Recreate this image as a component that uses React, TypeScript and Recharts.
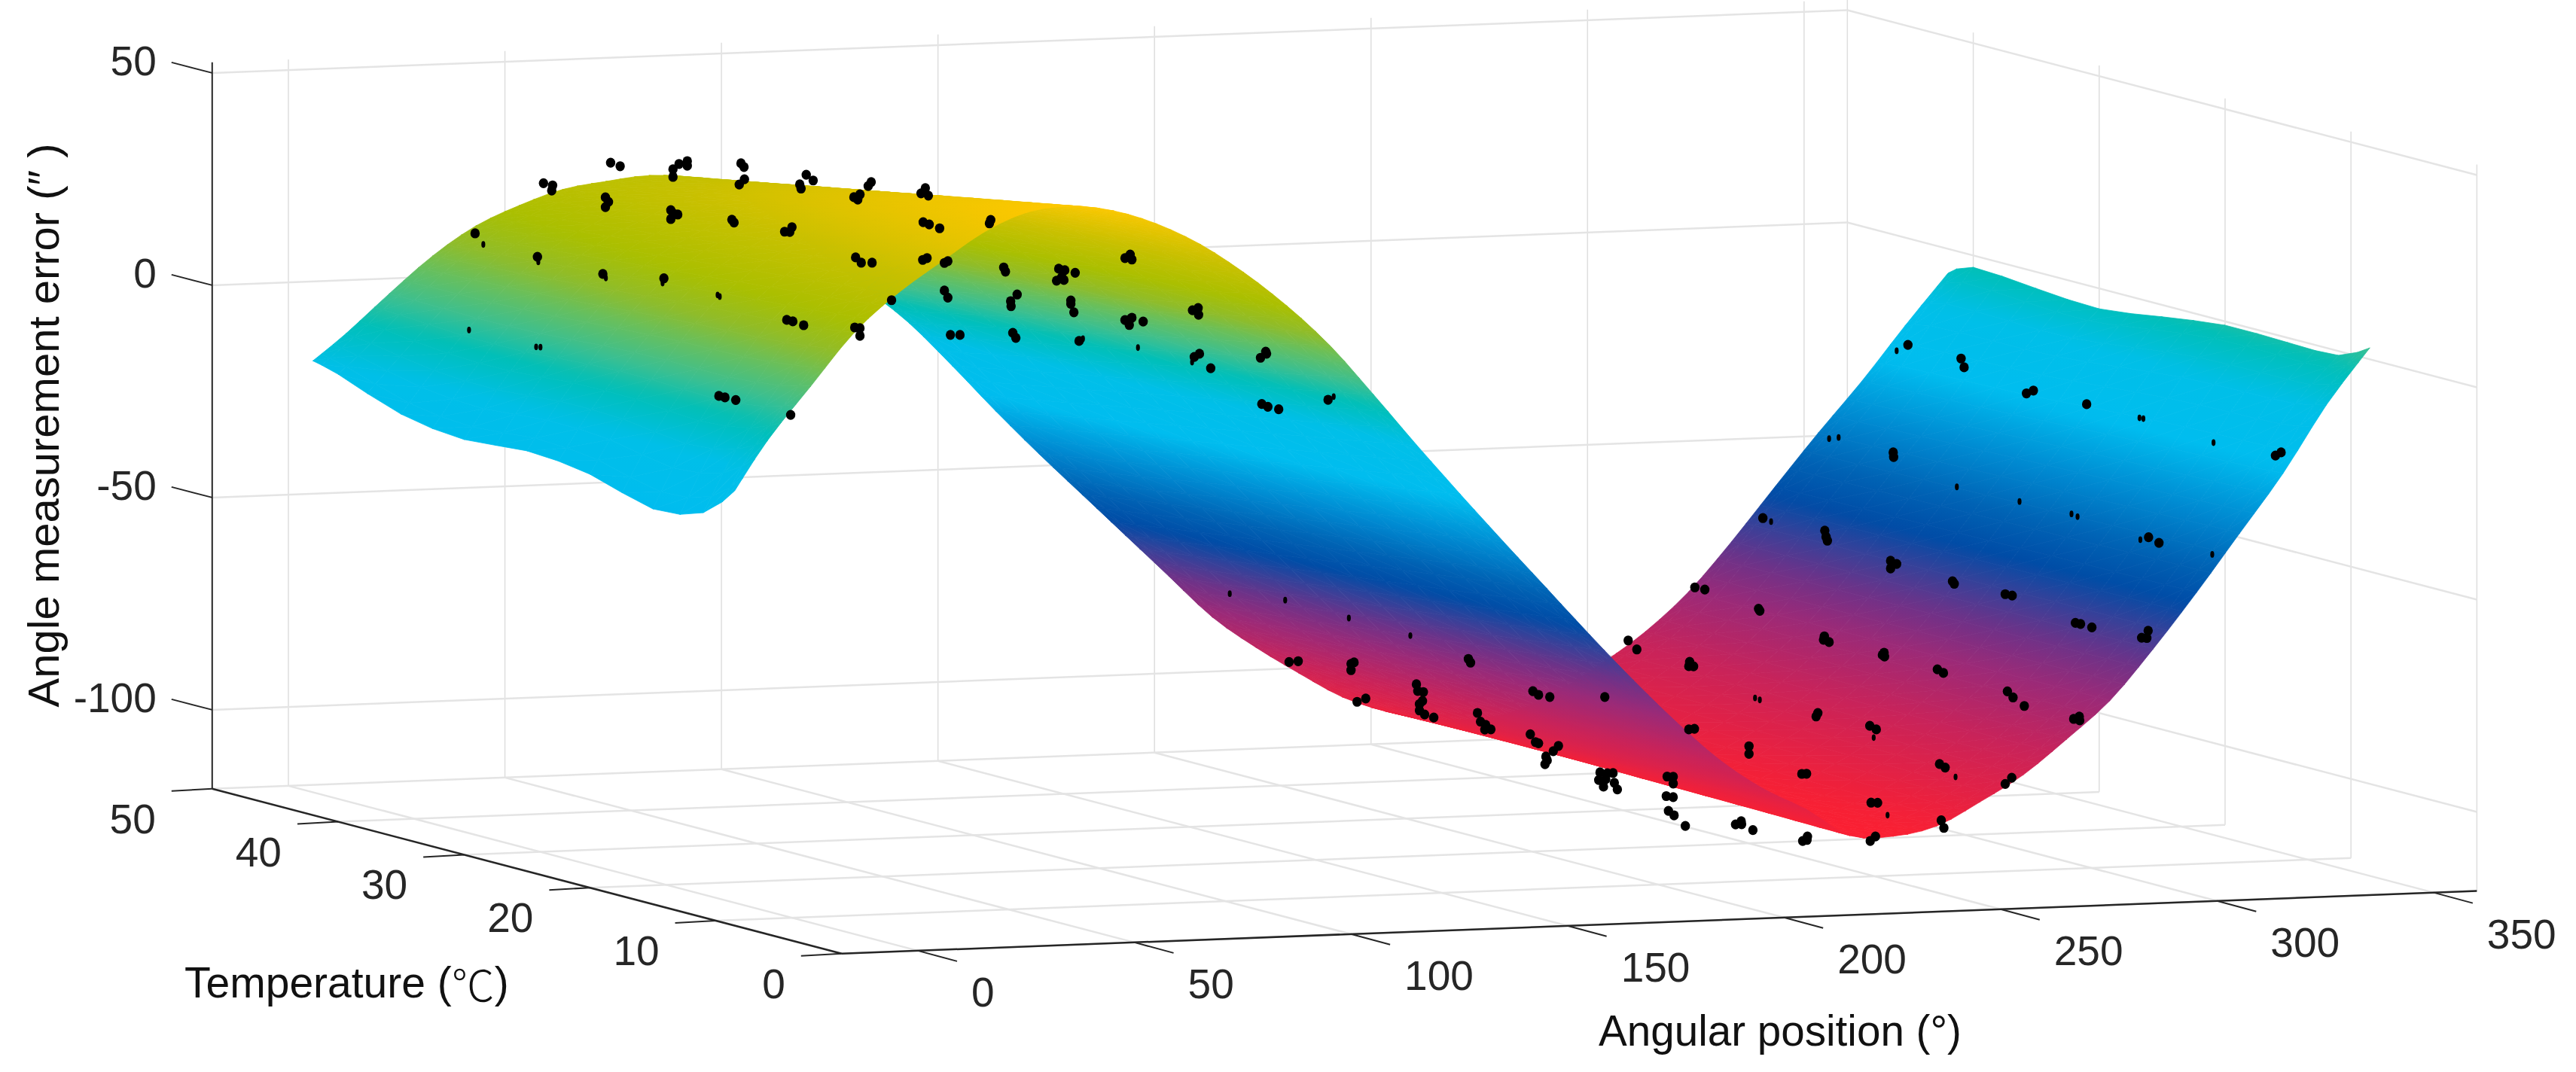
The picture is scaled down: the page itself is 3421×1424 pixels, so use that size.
import { ScatterChart, Scatter, XAxis, YAxis } from "recharts";

const WIDTH = 3421;
const HEIGHT = 1424;

const angleTicks = [0, 50, 100, 150, 200, 250, 300, 350];
const tempTicks = [0, 10, 20, 30, 40, 50];
const errorTicks = [50, 0, -50, -100];

const ANGLE_MIN = -17.6;
const ANGLE_MAX = 360;
const ERROR_MIN = -118.6;
const ERROR_MAX = 52.5;

const surfaceTemps = [8.5, 11, 15, 20, 25, 30, 35, 40, 42];
const surfaceAngles = [
  -17.6, -10, 0, 10, 20, 30, 40, 50, 60, 70, 80, 90, 100, 110, 120, 130, 140, 150, 160, 170, 180,
  190, 200, 210, 220, 230, 240, 250, 260, 270, 280, 290, 300, 310, 320, 330, 340, 350, 360,
];
// one row per angle, one column per temperature
const surfaceError = [
  [-16.2, -23.3, -25.5, -21.2, -19.6, -20.8, -18.7, -13.2, -11.6],
  [-4.6, -8.7, -10.4, -8.5, -8.2, -9.4, -8.7, -6.2, -5.5],
  [7.8, 6.0, 4.9, 5.0, 4.5, 3.5, 3.2, 3.5, 3.5],
  [20, 19, 17.9, 17, 15.8, 14.5, 13.4, 12.4, 12],
  [28.8, 28, 26.8, 25.3, 23.8, 22.3, 20.8, 19.3, 18.7],
  [35.8, 34.8, 33.3, 31.4, 29.5, 27.6, 25.8, 23.9, 23.1],
  [42.5, 41.3, 39.4, 37, 34.6, 32.2, 29.9, 27.5, 26.5],
  [46.8, 45.4, 43.2, 40.4, 37.5, 34.7, 31.9, 29.1, 28],
  [47.8, 46.4, 44.2, 41.4, 38.5, 35.7, 32.9, 30.1, 29],
  [46.3, 44.9, 42.7, 40, 37.3, 34.6, 31.8, 29.1, 28],
  [42.8, 41.4, 39.2, 36.4, 33.5, 30.7, 27.9, 25.1, 24],
  [37.6, 36.1, 33.6, 30.5, 27.5, 24.4, 21.3, 18.2, 17],
  [30.6, 29, 26.4, 23.2, 20, 16.7, 13.5, 10.3, 9],
  [22.3, 20.7, 18.1, 14.8, 11.6, 8.3, 5, 1.8, 0.5],
  [12.5, 11, 8.5, 5.5, 2.4, -0.7, -3.7, -6.8, -8],
  [0.6, -0.8, -3.1, -5.9, -8.8, -11.7, -14.5, -17.4, -18.5],
  [-11.7, -13, -15.2, -17.8, -20.5, -23.1, -25.8, -28.4, -29.5],
  [-23.6, -24.8, -26.8, -29.2, -31.7, -34.1, -36.6, -39, -40],
  [-35.2, -36.3, -38.1, -40.3, -42.5, -44.7, -46.9, -49.1, -50],
  [-46.6, -47.6, -49.2, -51.2, -53.2, -55.2, -57.2, -59.2, -60],
  [-58, -59, -60.5, -62.2, -64, -65.8, -67.7, -69.4, -70],
  [-69, -69.8, -71.1, -72.8, -74.4, -76.1, -77.7, -79.3, -80],
  [-79.3, -79.9, -80.9, -82.1, -83.3, -84.6, -85.8, -87, -87.5],
  [-88.6, -89, -89.6, -90.5, -91.3, -92.1, -92.9, -93.7, -94],
  [-95.7, -96, -96.5, -97.2, -97.8, -98.5, -99.1, -99.7, -100],
  [-101, -101.2, -101.5, -102, -102.4, -102.8, -103.2, -103.6, -103.8],
  [-107.5, -107.4, -107.2, -107, -106.8, -106.5, -106.3, -106.1, -106],
  [-108, -107.9, -107.7, -107.5, -107.3, -107, -106.8, -106.6, -106.5],
  [-106, -105.9, -105.8, -105.7, -105.5, -105.4, -105.2, -105.1, -105],
  [-100.7, -100.7, -100.7, -100.6, -100.6, -100.6, -100.5, -100.5, -100.5],
  [-94.7, -94.7, -94.7, -94.6, -94.6, -94.6, -94.5, -94.5, -94.5],
  [-86.7, -86.8, -86.9, -87, -87.1, -87.2, -87.3, -87.4, -87.5],
  [-78, -78, -78.1, -78.2, -78.2, -78.3, -78.4, -78.5, -78.5],
  [-66.2, -66.3, -66.4, -66.5, -66.6, -66.7, -66.8, -67, -67],
  [-53.3, -53.4, -53.5, -53.7, -53.9, -54.1, -54.2, -54.4, -54.5],
  [-39.7, -39.9, -40.2, -40.6, -40.9, -41.3, -41.7, -42.1, -42.2],
  [-26, -26.5, -26.9, -27.4, -28.1, -28.9, -29.4, -30, -30.5],
  [-10.3, -12, -12.3, -12.8, -14.2, -15.6, -15.9, -16.1, -17.8],
  [2.7, -1, -1.1, -0.9, -2.8, -4.8, -3.9, -2.8, -5.7],
];

// measured points as [angle, error]. One view cannot fix a point's depth,
// so each group sits at one temperature.
const dotsAt35 = [
  [15.3, 34.4], [17.4, 33.8], [17.2, 32.6], [30.8, 38.6], [33, 37.7], [45.2, 36.5], [45.2, 34.7], [29.6, 30.5],
  [30.3, 29.4], [29.6, 28.2], [44.7, 26.9], [45.4, 26], [44.7, 24.8], [-0.5, 23.2], [13.9, 17.1], [29, 12.5],
  [43.1, 10.9], [46.6, 37.7], [48.5, 38.3], [48.5, 37.2], [60.9, 37.3], [61.6, 36.4], [61.7, 33.5], [60.5, 32.3],
  [46.3, 25.8], [58.8, 24.1], [59.3, 23.4], [55.8, -17.3], [57.2, -17.7], [59.7, -18.4],
];
const dotsAt25 = [
  [46.9, 42.9], [48.5, 41.5], [45.4, 40.7], [45.7, 39.7], [61.9, 40.6], [61.2, 39.7], [59.3, 37.8], [57.9, 37.2],
  [58.8, 36.6], [74.4, 38.7], [73.4, 37.5], [75.1, 36.9], [43.6, 30.7], [41.9, 29.7], [43.1, 29.6], [73.9, 30.7],
  [75.3, 30.1], [77.7, 29.1], [89.5, 30.6], [89.2, 29.8], [121.7, 21.2], [120.5, 20.4], [122.1, 20], [58.3, 23],
  [59.6, 21.7], [62.1, 21.6], [73.8, 21.8], [74.8, 22.2], [79.6, 21.3], [78.8, 20.9], [92.5, 19.3], [92.9, 18.3],
  [105.2, 18.5], [106.6, 18.1], [109, 17.4], [105.9, 16.5], [104.7, 15.7], [106.4, 15.8], [78.8, 14.4], [79.6, 12.7],
  [95.6, 12.8], [94.1, 11.3], [94.2, 10.1], [108, 10.9], [108, 10.1], [108.7, 8.1], [137.4, 8], [136.1, 7.5],
  [137.5, 6.4], [42.4, 8.9], [43.8, 8.5], [46.3, 7.5], [66.6, 12.6], [122.1, 6.3], [120.5, 5.8], [121.5, 4.6],
  [124.7, 5.3], [121.5, 5.8], [58.1, 6.5], [59.3, 6.3], [59.3, 4.5], [94.6, 3.8], [95.3, 2.6], [80.2, 3.9],
  [82.4, 3.8], [109.9, 1.3], [137.7, -2.8], [136.5, -3.5], [140.3, -6.3], [153, -2.9], [151.8, -4.3], [153.2, -3.4],
  [43.3, -13.5], [167.4, -14.8], [152.1, -15.2], [153.5, -15.9], [156, -16.6], [158.4, -76.2], [160.5, -76.1], [172.7, -77.2],
  [172.7, -78.7], [173.4, -76.9], [199.8, -77.1], [200.3, -78], [174.1, -86.2], [176.1, -85.5], [187.8, -82.6], [188.1, -84.2],
  [189.4, -84.5], [189.2, -86.6], [188.5, -87.3], [188.5, -88.8], [189.7, -89.8], [191.8, -90.6], [201.9, -89.9], [202.6, -92],
  [203.8, -92.8], [203.6, -93.9], [205, -93.9], [214.7, -85.3], [216, -86.2], [218.6, -86.8], [231.3, -87.3], [214.1, -95.4],
  [215.3, -97.3], [216, -97.6], [220.6, -98.4], [219.4, -99.6], [217.7, -100.8], [218, -101.7], [217.5, -102.6], [230.2, -105],
  [231.9, -105.3], [233.2, -105.3], [229.9, -106.8], [231.5, -106.7], [233.5, -107.6], [231, -108.4], [234.2, -109.2], [245.7, -106.6],
  [247.1, -106.7], [247.1, -108.3], [245.5, -111.2], [247.1, -111.5], [246, -114.7], [247.3, -115.8], [249.9, -118.4], [261.5, -118.5],
  [262.8, -117.8], [262.9, -118.5], [265.5, -120], [277, -123], [278.1, -122], [278, -122.8], [292.6, -123.6], [293.8, -122.6],
  [252.1, -62.3], [254.4, -62.9], [266.8, -67.9], [267.1, -68.4], [282, -75], [281.8, -75.8], [283.1, -76.4], [282.1, -50.1],
  [282.4, -51.6], [282.7, -52.5], [236.7, -74.2], [238.7, -76.4], [250.9, -79.8], [250.7, -80.8], [251.8, -80.9], [250.7, -95.7],
  [252, -95.6], [280.5, -93], [280.1, -93.8], [264.6, -100.2], [264.6, -102], [292.5, -96.5], [294, -97.4], [277.9, -107.2],
  [276.8, -107.2], [292.8, -114.6], [294.3, -114.7], [295.4, -79.9], [301.3, -7.1], [297.9, -32.3], [298, -33.4], [297.3, -57.8],
  [298.7, -58.6], [297.3, -59.6], [311.6, -63.2], [312, -63.8], [295.8, -79.4], [295.9, -80.3], [308.1, -83.8], [309.5, -84.7],
  [308.6, -106.1], [309.9, -107], [309, -119.4], [309.6, -121.2], [267.8, -46.6],
];
const dotsAt15 = [
  [284.5, -1.9], [285.2, -4], [301.2, -10.1], [299.6, -10.7], [313.5, -13.8], [358.4, -26.9], [357.1, -27.6], [327.8, -45.7],
  [330.2, -47.1], [294.7, -57.8], [296.3, -58.2], [310.9, -65.2], [312.1, -65.5], [314.7, -66.4], [327.7, -67.7], [326.2, -69.3],
  [327.4, -69.4], [295.2, -80.7], [296.5, -82.2], [299.1, -84.3], [310.5, -87.8], [311.8, -87.3], [311.9, -88.2], [296.2, -101.1],
  [294.7, -102.5],
];
// points mostly sunk under the surface, only a sliver shows: [angle, temperature, error]
const sunkDots = [
  [1.4, 35, 20.5], [14.1, 35, 15.9], [29.7, 35, 11.5], [42.8, 35, 9.8], [-1.9, 35, 0.5], [13.6, 35, -4.1], [14.6, 35, -4.2],
  [55.5, 35, 6.5], [56, 35, 6.1], [123.5, 25, -0.8], [136, 25, -4.7], [168.7, 25, -14.1], [110.8, 25, 1.8], [144.7, 25, -59.6],
  [157.5, 25, -61.6], [172.2, 25, -66.4], [186.4, 25, -71.1], [266, 25, -88.9], [267.1, 25, -89.4], [293.4, 25, -99.3],
  [283.1, 25, -28.5], [285.3, 25, -28.3], [298.7, 25, -8.4], [269.7, 25, -47.5], [312.6, 25, -41], [312.3, 25, -109.3],
  [296.6, 25, -117.7], [325.7, 15, -17.5], [326.6, 15, -17.7], [342.8, 15, -24], [298, 15, -36.1], [310, 15, -39.5],
  [311.4, 15, -40.2], [325.9, 15, -46.2], [342.5, 15, -50.3],
];

const colorStops: [number, number[]][] = [
  [-110, [255, 31, 46]],
  [-90, [200, 35, 90]],
  [-78, [154, 42, 120]],
  [-70, [110, 50, 136]],
  [-63, [58, 64, 152]],
  [-56, [0, 76, 166]],
  [-48, [0, 98, 180]],
  [-38, [0, 136, 208]],
  [-25, [0, 189, 239]],
  [-12, [0, 191, 232]],
  [-3, [0, 191, 184]],
  [3, [60, 191, 144]],
  [10, [106, 191, 90]],
  [15, [143, 188, 42]],
  [22, [170, 191, 0]],
  [32, [200, 192, 0]],
  [40, [230, 196, 0]],
  [48, [255, 200, 0]],
];

// the plot box is an oblique view, so each data unit moves a fixed number of pixels
const project = (angle: number, temp: number, error: number) => ({
  x: 1219 + 5.751 * angle - 16.72 * temp,
  y: 594 - 0.2207 * angle - 4.38 * temp - 5.64 * error,
});

const colorAt = (z: number) => {
  if (z <= colorStops[0][0]) return `rgb(${colorStops[0][1].join(",")})`;
  for (let i = 1; i < colorStops.length; i++) {
    const [z1, c1] = colorStops[i];
    if (z <= z1) {
      const [z0, c0] = colorStops[i - 1];
      const k = (z - z0) / (z1 - z0);
      return `rgb(${c0.map((c, j) => Math.round(c + (c1[j] - c) * k)).join(",")})`;
    }
  }
  return `rgb(${colorStops[colorStops.length - 1][1].join(",")})`;
};

// curve smoothing of the drawn surface, same idea as type="monotone" on a Line
const smooth = (v: number[], steps: number) => {
  const out: number[] = [];
  for (let i = 0; i < v.length - 1; i++) {
    const p0 = v[Math.max(i - 1, 0)];
    const p1 = v[i];
    const p2 = v[i + 1];
    const p3 = v[Math.min(i + 2, v.length - 1)];
    for (let s = 0; s < steps; s++) {
      const t = s / steps;
      out.push(
        0.5 *
          (2 * p1 +
            (p2 - p0) * t +
            (2 * p0 - 5 * p1 + 4 * p2 - p3) * t * t +
            (3 * p1 - p0 - 3 * p2 + p3) * t * t * t)
      );
    }
  }
  out.push(v[v.length - 1]);
  return out;
};

const ANGLE_STEPS = 3;
const TEMP_STEPS = 2;
const meshAngles = smooth(surfaceAngles, ANGLE_STEPS);
const meshTemps = smooth(surfaceTemps, TEMP_STEPS);
const byAngle = surfaceError.map((row) => smooth(row, TEMP_STEPS));
const meshError = meshAngles.map(() => [] as number[]);
meshTemps.forEach((_, j) => {
  smooth(byAngle.map((row) => row[j]), ANGLE_STEPS).forEach((z, i) => meshError[i].push(z));
});

const makeTriangle = (corners: number[][], id: number) => {
  const pts = corners.map(([a, t, z]) => ({ ...project(a, t, z), z }));
  const [p, q, r] = pts;
  const det = (q.x - p.x) * (r.y - p.y) - (r.x - p.x) * (q.y - p.y);
  const gx = ((q.z - p.z) * (r.y - p.y) - (r.z - p.z) * (q.y - p.y)) / det;
  const gy = ((r.z - p.z) * (q.x - p.x) - (q.z - p.z) * (r.x - p.x)) / det;
  const low = pts.reduce((m, v) => (v.z < m.z ? v : m));
  const high = pts.reduce((m, v) => (v.z > m.z ? v : m));
  const dz = high.z - low.z;
  const g2 = gx * gx + gy * gy;
  return {
    id,
    x: (p.x + q.x + r.x) / 3,
    y: (p.y + q.y + r.y) / 3,
    points: pts.map((v) => `${v.x.toFixed(1)},${v.y.toFixed(1)}`).join(" "),
    x1: low.x,
    y1: low.y,
    x2: low.x + (gx * dz) / (g2 || 1),
    y2: low.y + (gy * dz) / (g2 || 1),
    lowZ: low.z,
    dz,
  };
};

// far corner first, so nearer parts of the surface paint over farther ones
const triangles: ReturnType<typeof makeTriangle>[] = [];
for (let i = meshAngles.length - 2; i >= 0; i--) {
  for (let j = meshTemps.length - 2; j >= 0; j--) {
    const a0 = meshAngles[i];
    const a1 = meshAngles[i + 1];
    const t0 = meshTemps[j];
    const t1 = meshTemps[j + 1];
    const far = [a1, t1, meshError[i + 1][j + 1]];
    const near = [a0, t0, meshError[i][j]];
    const left = [a0, t1, meshError[i][j + 1]];
    const right = [a1, t0, meshError[i + 1][j]];
    triangles.push(makeTriangle([far, left, right], triangles.length));
    triangles.push(makeTriangle([left, right, near], triangles.length));
  }
}

const seg = (p: { x: number; y: number }, q: { x: number; y: number }, stroke: string, sw: number) => ({
  x: p.x,
  y: p.y,
  x2: q.x,
  y2: q.y,
  stroke,
  sw,
});

const GRID = "#e4e4e4";
const GRID_V = "#dedede";
const AXIS = "#262626";

const gridLines = [
  ...angleTicks.map((a) => seg(project(a, 50, ERROR_MIN), project(a, 50, ERROR_MAX), GRID_V, 1.5)),
  ...tempTicks.map((t) => seg(project(ANGLE_MAX, t, ERROR_MIN), project(ANGLE_MAX, t, ERROR_MAX), GRID_V, 1.5)),
  ...errorTicks.map((z) => seg(project(ANGLE_MIN, 50, z), project(ANGLE_MAX, 50, z), GRID, 2.5)),
  ...errorTicks.map((z) => seg(project(ANGLE_MAX, 50, z), project(ANGLE_MAX, 0, z), GRID, 2.5)),
  ...angleTicks.map((a) => seg(project(a, 0, ERROR_MIN), project(a, 50, ERROR_MIN), GRID, 2.5)),
  ...tempTicks.map((t) => seg(project(ANGLE_MIN, t, ERROR_MIN), project(ANGLE_MAX, t, ERROR_MIN), GRID, 2.5)),
];

const tickFrom = (p: { x: number; y: number }, dx: number, dy: number) =>
  seg(p, { x: p.x + dx, y: p.y + dy }, AXIS, 2);

const axisLines = [
  seg(project(ANGLE_MIN, 50, ERROR_MIN), project(ANGLE_MIN, 50, ERROR_MAX), AXIS, 2),
  seg(project(ANGLE_MIN, 50, ERROR_MIN), project(ANGLE_MIN, 0, ERROR_MIN), AXIS, 2.5),
  seg(project(ANGLE_MIN, 0, ERROR_MIN), project(ANGLE_MAX, 0, ERROR_MIN), AXIS, 2.5),
  ...errorTicks.map((z) => tickFrom(project(ANGLE_MIN, 50, z), -54, -14)),
  ...tempTicks.map((t) => tickFrom(project(ANGLE_MIN, t, ERROR_MIN), -54, 3)),
  ...angleTicks.map((a) => tickFrom(project(a, 0, ERROR_MIN), 52, 14)),
];

const labelAt = (p: { x: number; y: number }, dx: number, dy: number, text: string, anchor: string) => ({
  x: p.x + dx,
  y: p.y + dy,
  text,
  anchor,
});

const tickLabels = [
  ...errorTicks.map((z) => labelAt(project(ANGLE_MIN, 50, z), -74, -16, String(z), "end")),
  ...tempTicks.map((t) => labelAt(project(ANGLE_MIN, t, ERROR_MIN), -75, 40, String(t), "end")),
  ...angleTicks.map((a) => labelAt(project(a, 0, ERROR_MIN), 71, 55, String(a), "start")),
];

const titles = [
  { x: 245, y: 1305, text: "Temperature (", unit: "℃", tail: ")", anchor: "start", rotate: 0, size: 57 },
  { x: 2123, y: 1369, text: "Angular position (°)", unit: "", tail: "", anchor: "start", rotate: 0, size: 56.6 },
  { x: 57, y: 565, text: "Angle measurement error (″  )", unit: "", tail: "", anchor: "middle", rotate: -90, size: 58 },
];

const dotPoints = [
  ...dotsAt35.map(([a, z]) => project(a, 35, z)),
  ...dotsAt25.map(([a, z]) => project(a, 25, z)),
  ...dotsAt15.map(([a, z]) => project(a, 15, z)),
];
const sunkPoints = sunkDots.map(([a, t, z]) => project(a, t, z));

const FONT = "'Liberation Sans', Arial, sans-serif";

const TriangleShape = (props: any) => {
  const t = props.payload;
  const fid = `tri-${t.id}`;
  const flat = t.dz < 0.05;
  const paint = flat ? colorAt(t.lowZ) : `url(#${fid})`;
  return (
    <g>
      {!flat && (
        <defs>
          <linearGradient id={fid} gradientUnits="userSpaceOnUse" x1={t.x1} y1={t.y1} x2={t.x2} y2={t.y2}>
            <stop offset={0} stopColor={colorAt(t.lowZ)} />
            <stop offset={0.5} stopColor={colorAt(t.lowZ + t.dz / 2)} />
            <stop offset={1} stopColor={colorAt(t.lowZ + t.dz)} />
          </linearGradient>
        </defs>
      )}
      <polygon points={t.points} fill={paint} stroke={paint} strokeWidth={0.8} strokeLinejoin="round" />
    </g>
  );
};

const SegmentShape = (props: any) => {
  const s = props.payload;
  return <line x1={s.x} y1={s.y} x2={s.x2} y2={s.y2} stroke={s.stroke} strokeWidth={s.sw} strokeLinecap="butt" />;
};

const TickText = (props: any) => {
  const l = props.payload;
  return (
    <text x={l.x} y={l.y} textAnchor={l.anchor} dominantBaseline="central" fontFamily={FONT} fontSize={55} fill={AXIS}>
      {l.text}
    </text>
  );
};

const TitleText = (props: any) => {
  const l = props.payload;
  return (
    <text
      x={l.x}
      y={l.y}
      textAnchor={l.anchor}
      dominantBaseline="central"
      fontFamily={FONT}
      fontSize={l.size}
      fill="#111"
      transform={l.rotate ? `rotate(${l.rotate} ${l.x} ${l.y})` : undefined}
    >
      {l.text}
      {l.unit && <tspan fontFamily="'Noto Sans CJK SC'" fontWeight={300}>{l.unit}</tspan>}
      {l.tail}
    </text>
  );
};

const DotShape = (props: any) => <ellipse cx={props.cx} cy={props.cy} rx={6.2} ry={6.6} fill="#000" />;
const SunkShape = (props: any) => <ellipse cx={props.cx} cy={props.cy} rx={2.6} ry={4.4} fill="#000" />;

export default function App() {
  return (
    <div style={{ position: "absolute", left: 0, top: 0, width: WIDTH, height: HEIGHT, background: "#fff" }}>
      <ScatterChart width={WIDTH} height={HEIGHT} margin={{ top: 0, right: 0, bottom: 0, left: 0 }}>
        <XAxis type="number" dataKey="x" domain={[0, WIDTH]} hide />
        <YAxis type="number" dataKey="y" domain={[0, HEIGHT]} reversed hide />
        <Scatter data={gridLines} shape={SegmentShape} isAnimationActive={false} />
        <Scatter data={triangles} shape={TriangleShape} isAnimationActive={false} />
        <Scatter data={axisLines} shape={SegmentShape} isAnimationActive={false} />
        <Scatter data={sunkPoints} shape={SunkShape} isAnimationActive={false} />
        <Scatter data={dotPoints} shape={DotShape} isAnimationActive={false} />
        <Scatter data={tickLabels} shape={TickText} isAnimationActive={false} />
        <Scatter data={titles} shape={TitleText} isAnimationActive={false} />
      </ScatterChart>
    </div>
  );
}
